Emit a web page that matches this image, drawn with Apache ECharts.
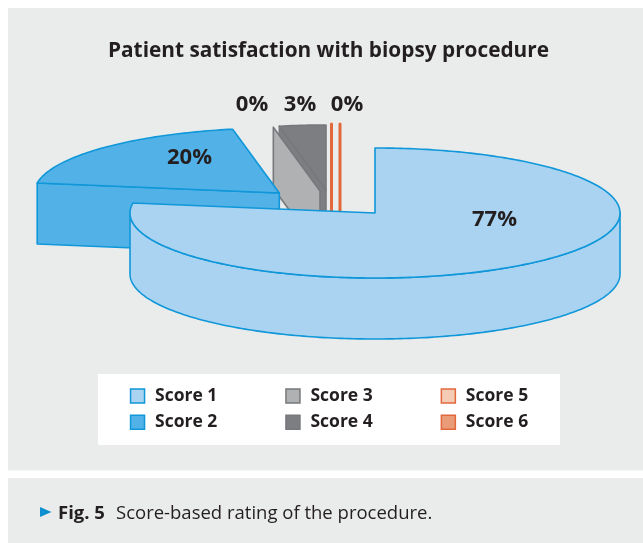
<!DOCTYPE html>
<html>
<head>
<meta charset="utf-8">
<style>html,body{margin:0;padding:0;background:#fff}#c{width:643px;height:543px}</style>
<script src="https://cdn.jsdelivr.net/npm/echarts@6/dist/echarts.min.js"></script>
</head>
<body>
<div id="c"></div>
<script>
const categories = ['Score 1', 'Score 2', 'Score 3', 'Score 4', 'Score 5', 'Score 6'];
const values = [77.45, 19.5, 0, 3.05, 0, 0];
const labelled = [true, true, true, true, true, false];
const fills = ['#aad3f1', '#52b2e8', '#b0b1b3', '#7d7e82', '#f4cbb4', '#ea9c78'];
const strokes = ['#0f97d9', '#0f97d9', '#77787b', '#77787b', '#e2683c', '#e2683c'];
const paintOrder = [5, 4, 3, 2, 1, 0];

// Projection of the exploded 3D pie
const RX = 245, RY = 65, DEPTH = 61;
const apexes = [[375, 213], [279.3, 193], [320, 191], [326, 190], [331.5, 189], [340, 189]];
const labelSpots = [[494.5, 220], [189.5, 158], [252, 105], [300, 105], [347, 105], null];

const TOTAL = values.reduce((a, b) => a + b, 0);
const starts = [];
values.reduce((acc, v, i) => { starts[i] = acc; return acc + v; }, 0);
const FONT = '"Open Sans", "Noto Sans", sans-serif';

function pt(idx, deg, drop) {
  const r = deg * Math.PI / 180;
  return [apexes[idx][0] + RX * Math.sin(r), apexes[idx][1] - RY * Math.cos(r) + (drop || 0)];
}
function arc(idx, a0, a1, drop) {
  const out = [], n = Math.max(1, Math.ceil(Math.abs(a1 - a0)));
  for (let i = 0; i <= n; i++) out.push(pt(idx, a0 + (a1 - a0) * i / n, drop));
  return out;
}
function poly(points, idx, sw) {
  return {
    type: 'polygon',
    shape: { points },
    style: { fill: fills[idx], stroke: strokes[idx], lineWidth: sw, lineJoin: 'round' }
  };
}
function cutWall(idx, deg) {
  const a = apexes[idx], o = pt(idx, deg);
  return [a, o, [o[0], o[1] + DEPTH], [a[0], a[1] + DEPTH]];
}
function sliceRenderer(idx) {
  return function (params, api) {
    const v = api.value(0);
    const a0 = starts[idx] / TOTAL * 360;
    const a1 = (starts[idx] + v) / TOTAL * 360;
    const sw = idx < 2 ? 1.6 : (idx < 4 ? 1.6 : 3);
    const children = [];
    const startFacing = -Math.cos((a0 - 90) * Math.PI / 180) > 1e-3;
    if (startFacing || v === 0) children.push(poly(cutWall(idx, a0), idx, sw));
    const w0 = Math.max(a0, 90), w1 = Math.min(a1, 270);
    if (w1 > w0) {
      const top = arc(idx, w0, w1, 0), bottom = arc(idx, w1, w0, DEPTH);
      children.push(poly(top.concat(bottom), idx, sw));
    }
    if (v > 0) children.push(poly([apexes[idx]].concat(arc(idx, a0, a1, 0)), idx, sw));
    if (labelled[idx]) {
      children.push({
        type: 'text',
        style: {
          x: labelSpots[idx][0], y: labelSpots[idx][1],
          text: Math.round(v) + '%',
          align: 'center', verticalAlign: 'middle',
          fill: '#231f20',
          font: '700 22px ' + FONT
        }
      });
    }
    return { type: 'group', children };
  };
}

const series = paintOrder.map((idx, k) => ({
  type: 'custom',
  name: categories[idx],
  coordinateSystem: 'none',
  data: [[values[idx]]],
  z: 3 + k,
  silent: true,
  animation: false,
  itemStyle: { color: fills[idx], borderColor: strokes[idx], borderWidth: 1.5 },
  renderItem: sliceRenderer(idx)
}));

function legendColumn(names, left) {
  return {
    data: names.map(n => {
      const i = categories.indexOf(n);
      return { name: n, itemStyle: { color: fills[i], borderColor: strokes[i], borderWidth: 1.5 } };
    }),
    orient: 'vertical', left, top: 387, padding: 0,
    icon: 'rect', itemWidth: 14, itemHeight: 14, itemGap: 8.3, itemStyle: {},
    selectedMode: false,
    textStyle: { fontFamily: FONT, fontWeight: 700, fontSize: 17.5, lineHeight: 14, color: '#231f20', padding: [0, 0, 0, 5.5] }
  };
}

const chart = echarts.init(document.getElementById('c'), null, { renderer: 'canvas' });
chart.setOption({
  animation: false,
  backgroundColor: '#ffffff',
  title: {
    text: 'Patient satisfaction with biopsy procedure',
    left: 328.5, top: 41, padding: 0, textAlign: 'center',
    textStyle: { fontFamily: FONT, fontWeight: 700, fontSize: 20.8, color: '#231f20' }
  },
  legend: [
    legendColumn(['Score 1', 'Score 2'], 129.8),
    legendColumn(['Score 3', 'Score 4'], 285.2),
    legendColumn(['Score 5', 'Score 6'], 440.6)
  ],
  graphic: [
    { type: 'rect', z: -10, shape: { x: 8, y: 8, width: 635, height: 462.5 }, style: { fill: '#eaecec' } },
    { type: 'rect', z: -10, shape: { x: 8, y: 478, width: 635, height: 65 }, style: { fill: '#eaebeb' } },
    { type: 'rect', z: -9, shape: { x: 98, y: 374, width: 462, height: 71 }, style: { fill: '#ffffff' } },
    { type: 'polygon', z: -9, shape: { points: [[40, 507], [51.5, 512], [40, 517]] }, style: { fill: '#0f8fd0' } },
    { type: 'text', z: -9, style: { x: 58, y: 514, text: 'Fig. 5', verticalAlign: 'middle', fill: '#231f20', font: '700 18.5px ' + FONT } },
    { type: 'text', z: -9, style: { x: 116, y: 514, text: 'Score-based rating of the procedure.', verticalAlign: 'middle', fill: '#231f20', font: '400 18.5px ' + FONT } }
  ],
  series
});
</script>
</body>
</html>
